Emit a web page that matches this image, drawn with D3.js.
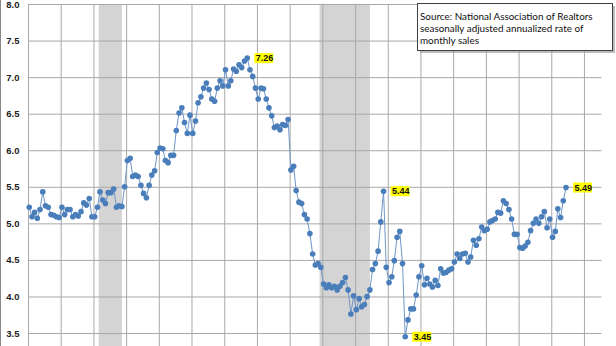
<!DOCTYPE html>
<html><head><meta charset="utf-8">
<script src="https://cdn.jsdelivr.net/npm/d3@7"></script>
<style>html,body{margin:0;padding:0;background:#fff;} svg{display:block}</style>
</head><body>
<svg id="c" width="616" height="346"></svg>
<script>
// Existing home sales, SAAR (millions), monthly from Jan 1999
const startYear = 1999;
const sales = [
 5.22,5.09,5.15,5.07,5.19,5.43,5.24,5.22,5.12,5.11,5.09,5.08, // 1999
 5.22,5.12,5.19,5.19,5.09,5.12,5.10,5.16,5.28,5.25,5.34,5.09, // 2000
 5.09,5.22,5.43,5.32,5.27,5.42,5.42,5.47,5.22,5.24,5.23,5.50, // 2001
 5.86,5.89,5.64,5.66,5.64,5.52,5.41,5.35,5.52,5.66,5.72,5.97, // 2002
 6.03,6.02,5.86,5.83,5.93,5.93,6.27,6.51,6.58,6.38,6.23,6.48, // 2003
 6.23,6.40,6.65,6.73,6.85,6.92,6.83,6.70,6.67,6.85,6.95,6.88, // 2004
 7.10,6.88,6.95,7.11,7.08,7.17,7.13,7.22,7.26,7.10,7.01,6.85, // 2005
 6.70,6.85,6.84,6.70,6.58,6.47,6.31,6.33,6.28,6.35,6.34,6.42, // 2006
 5.73,5.78,5.45,5.29,5.27,5.12,5.06,4.86,4.58,4.43,4.45,4.40, // 2007
 4.17,4.12,4.16,4.12,4.14,4.09,4.14,4.19,4.26,4.09,3.76,4.01, // 2008
 3.82,3.97,3.86,3.89,4.00,4.09,4.37,4.45,4.62,5.02,5.44,4.40, // 2009
 4.19,4.27,4.49,4.81,4.89,4.45,3.45,3.68,3.83,3.83,4.02,4.27, // 2010
 4.42,4.16,4.25,4.17,4.13,4.22,4.15,4.38,4.32,4.33,4.36,4.38, // 2011
 4.47,4.58,4.52,4.58,4.59,4.47,4.54,4.77,4.70,4.79,4.95,4.90, // 2012
 4.92,5.02,5.04,5.06,5.15,5.14,5.31,5.27,5.19,5.06,4.85,4.85, // 2013
 4.67,4.66,4.69,4.74,4.90,5.00,5.06,5.00,5.09,5.16,4.94,5.06, // 2014
 4.81,4.89,5.20,5.08,5.31,5.49                                // 2015
];
const labeledMonths = ["2005-09","2009-11","2010-07","2015-06"];
const recessions = [["2001-03","2001-11"],["2007-12","2009-06"]];
const yTicks = [3.5,4.0,4.5,5.0,5.5,6.0,6.5,7.0,7.5,8.0];
const sourceLines = ["Source: National Association of Realtors","seasonally adjusted annualized rate of","monthly sales"];

(function(){
const pm = d3.timeParse("%Y-%m");
const data = sales.map((v,i)=>({date:new Date(startYear, i, 15), v}));

const svg = d3.select("#c");
const W = 616, H = 346;
const x = d3.scaleTime().domain([new Date(1999,0,1), new Date(2016,6,15)]).range([28, 601.5]);
const y = d3.scaleLinear().domain([3, 8]).range([369.6, 4]);
const pTop = y(8), pBottom = H;

// recession shading
svg.append("g").selectAll("rect").data(recessions).join("rect")
  .attr("x", d=>x(pm(d[0])))
  .attr("width", d=>{const e=pm(d[1]); e.setDate(15); return x(e)-x(pm(d[0]));})
  .attr("y", pTop).attr("height", pBottom-pTop)
  .attr("fill", "#d4d4d4");

// vertical gridlines
const gx = svg.append("g").attr("transform", `translate(0,${pBottom})`)
  .call(d3.axisBottom(x).ticks(d3.timeYear.every(1)).tickSize(-(pBottom-pTop)).tickFormat(""));
gx.select(".domain").remove();
gx.selectAll("line").attr("stroke", "#a8a8a8").attr("stroke-width", 1);

// horizontal gridlines + labels
const gy = svg.append("g").attr("transform", `translate(28,0)`)
  .call(d3.axisLeft(y).tickValues(yTicks).tickSize(-(601.5-28)).tickPadding(8.5).tickFormat(d3.format(".1f")));
gy.select(".domain").remove();
gy.selectAll("line").attr("stroke", "#a8a8a8").attr("stroke-width", 1);
gy.selectAll("text").attr("font-family", "Liberation Sans, Arial, sans-serif")
  .attr("font-size", 9.5).attr("font-weight", "bold").attr("fill", "#222");

// left border
svg.append("line").attr("x1",0.5).attr("x2",0.5).attr("y1",0).attr("y2",H).attr("stroke","#8a8a8a");

// series line
svg.append("path").datum(data)
  .attr("fill","none").attr("stroke","#6f95c8").attr("stroke-width",1)
  .attr("d", d3.line().x(d=>x(d.date)).y(d=>y(d.v)));
svg.append("g").selectAll("circle").data(data).join("circle")
  .attr("cx", d=>x(d.date)).attr("cy", d=>y(d.v)).attr("r", 2.8)
  .attr("fill", "#4a7ebb");

// value labels
const fmtKey = d3.timeFormat("%Y-%m");
const lab = svg.append("g").selectAll("g").data(data.filter(d=>labeledMonths.includes(fmtKey(d.date)))).join("g")
  .attr("transform", d=>`translate(${x(d.date)+7},${y(d.v)})`);
lab.append("rect").attr("x",0).attr("y",-5).attr("width",19).attr("height",10).attr("fill","#ffff00");
lab.append("text").attr("x",1.5).attr("y",3.3).text(d=>d.v.toFixed(2))
  .attr("font-family","Liberation Sans, Arial, sans-serif").attr("font-size",9).attr("font-weight","bold").attr("fill","#111");

// source box
const bx = 417.5, by = 3.5, bw = 195, bh = 47;
svg.append("rect").attr("x",bx+2.5).attr("y",by+2.5).attr("width",bw).attr("height",bh).attr("fill","#a0a0a0").attr("opacity",0.7);
svg.append("rect").attr("x",bx).attr("y",by).attr("width",bw).attr("height",bh).attr("fill","#fff").attr("stroke","#404040");
svg.append("g").selectAll("text").data(sourceLines).join("text")
  .attr("x", 420).attr("y", (d,i)=>19.5+i*12.3).text(d=>d)
  .attr("font-family","Lato, sans-serif").attr("font-size",9.9).attr("fill","#111");
})();
</script>
</body></html>
